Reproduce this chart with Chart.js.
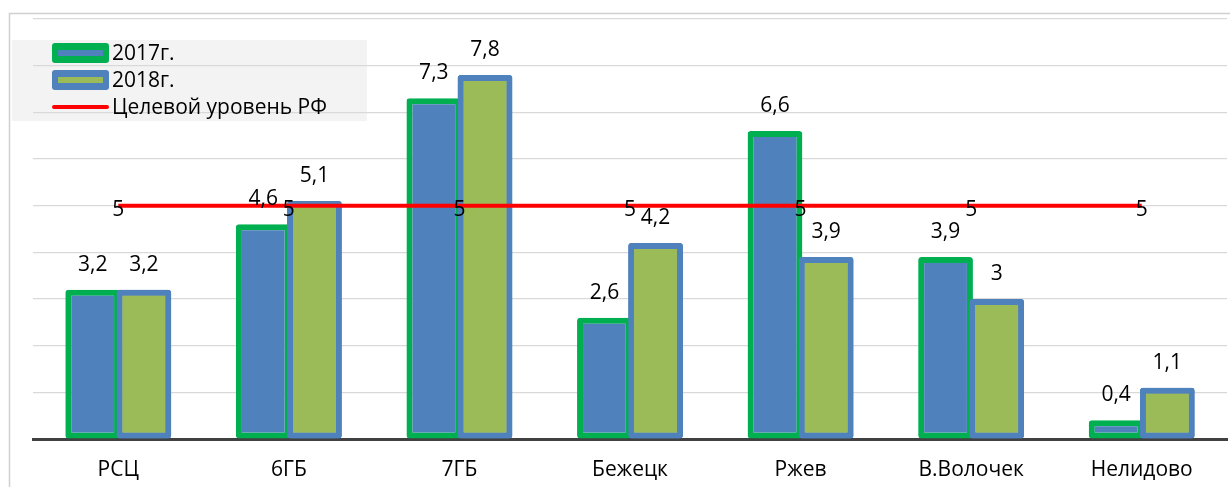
<!DOCTYPE html>
<html>
<head>
<meta charset="utf-8">
<script src="https://cdn.jsdelivr.net/npm/chart.js@4/dist/chart.umd.min.js"></script>
<style>
  html, body { margin: 0; padding: 0; background: #fff; }
  #wrap { width: 1230px; height: 487px; }
</style>
</head>
<body>
<div id="wrap"><canvas id="c" width="1230" height="487"></canvas></div>
<script>
const categories = ['РСЦ', '6ГБ', '7ГБ', 'Бежецк', 'Ржев', 'В.Волочек', 'Нелидово'];
const values2017 = [3.2, 4.6, 7.3, 2.6, 6.6, 3.9, 0.4];
const values2018 = [3.2, 5.1, 7.8, 4.2, 3.9, 3, 1.1];
const targetRF = [5, 5, 5, 5, 5, 5, 5];
const seriesNames = ['2017г.', '2018г.', 'Целевой уровень РФ'];
const yTicks = { min: 0, max: 9, step: 1 };

const FONT = '"Open Sans", "DejaVu Sans", sans-serif';
const TEXT = '#000000';
const FONT_SIZE = 21;

const fmt = v => String(v).replace('.', ',');

// Background, outer frame and the legend panel (drawn under the grid)
const backdrop = {
  id: 'backdrop',
  beforeDraw(chart) {
    const ctx = chart.ctx;
    ctx.save();
    ctx.fillStyle = '#fff';
    ctx.fillRect(0, 0, chart.width, chart.height);
    ctx.strokeStyle = '#d0d0d0';
    ctx.lineWidth = 1.5;
    ctx.beginPath();
    ctx.moveTo(9.5, chart.height + 5);
    ctx.lineTo(9.5, 13.5);
    ctx.lineTo(chart.width + 5, 13.5);
    ctx.stroke();
    ctx.fillStyle = '#f3f3f3';
    ctx.fillRect(12, 40, 355, 81);
    ctx.restore();
  }
};

// The 2018 bars sit slightly over the 2017 bars' right edge
const barLayering = {
  id: 'barLayering',
  afterDatasetDraw(chart, args) {
    if (args.index !== 1) return;
    const meta = chart.getDatasetMeta(2);
    meta.data.forEach(el => el.draw(chart.ctx, chart.chartArea));
  }
};

// Value labels above bars and at the target line points
const valueLabels = {
  id: 'valueLabels',
  afterDatasetsDraw(chart) {
    const ctx = chart.ctx;
    ctx.save();
    ctx.font = FONT_SIZE + 'px ' + FONT;
    ctx.fillStyle = TEXT;
    ctx.textAlign = 'center';
    ctx.textBaseline = 'middle';
    chart.data.datasets.forEach((ds, i) => {
      const meta = chart.getDatasetMeta(i);
      meta.data.forEach((el, j) => {
        const v = ds.data[j];
        if (ds.type === 'line') {
          ctx.fillText(fmt(v), el.x, el.y + 4);
        } else {
          ctx.fillText(fmt(v), el.x, el.y - 25);
        }
      });
    });
    ctx.restore();
  }
};

// Legend drawn inside the plot area, top-left
const insetLegend = {
  id: 'insetLegend',
  afterDatasetsDraw(chart) {
    const ctx = chart.ctx;
    const ds = chart.data.datasets;
    const bar2017 = ds[1], bar2018 = ds[2], line = ds[0];
    ctx.save();
    const x0 = 52, w = 57, rows = [53, 80, 107];
    [bar2017, bar2018].forEach((d, k) => {
      const cy = rows[k];
      ctx.fillStyle = d.borderColor;
      ctx.beginPath();
      ctx.roundRect(x0, cy - 10, w, 20, 3);
      ctx.fill();
      ctx.fillStyle = d.backgroundColor;
      ctx.fillRect(x0 + 6, cy - 3, w - 12, 6);
    });
    ctx.strokeStyle = line.borderColor;
    ctx.lineWidth = 4;
    ctx.lineCap = 'round';
    ctx.beginPath();
    ctx.moveTo(x0 + 2, rows[2]);
    ctx.lineTo(x0 + w - 2, rows[2]);
    ctx.stroke();
    ctx.font = FONT_SIZE + 'px ' + FONT;
    ctx.fillStyle = TEXT;
    ctx.textAlign = 'left';
    ctx.textBaseline = 'middle';
    [bar2017.label, bar2018.label, line.label].forEach((n, k) => ctx.fillText(n, 112, rows[k] + 1));
    ctx.restore();
  }
};

const barCommon = {
  type: 'bar',
  borderWidth: 6,
  borderRadius: 3,
  borderSkipped: false,
  categoryPercentage: 0.6,
  barPercentage: 1.07,
  order: 1
};

new Chart(document.getElementById('c'), {
  data: {
    labels: categories,
    datasets: [
      {
        type: 'line',
        label: seriesNames[2],
        data: targetRF,
        borderColor: '#ff0000',
        borderWidth: 4,
        pointRadius: 0,
        order: 0
      },
      Object.assign({}, barCommon, {
        label: seriesNames[0],
        data: values2017,
        backgroundColor: '#4f81bd',
        borderColor: '#00b050'
      }),
      Object.assign({}, barCommon, {
        label: seriesNames[1],
        data: values2018,
        backgroundColor: '#9bbb59',
        borderColor: '#4f81bd'
      })
    ]
  },
  options: {
    responsive: false,
    animation: false,
    layout: { padding: { left: 33, right: 3, top: 19, bottom: 0 } },
    plugins: {
      legend: { display: false },
      tooltip: { enabled: false }
    },
    scales: {
      x: {
        grid: { display: false, drawTicks: false },
        border: { display: true, color: '#404040', width: 3 },
        ticks: { color: TEXT, font: { family: FONT, size: FONT_SIZE }, padding: 18 },
        afterFit(s) { s.height = 48; }
      },
      y: {
        min: yTicks.min,
        max: yTicks.max,
        ticks: { display: false, stepSize: yTicks.step },
        grid: { color: '#d9d9d9', lineWidth: 1.2, drawTicks: false },
        border: { display: false },
        afterFit(s) { s.width = 0; }
      }
    }
  },
  plugins: [backdrop, barLayering, valueLabels, insetLegend]
});
</script>
</body>
</html>
